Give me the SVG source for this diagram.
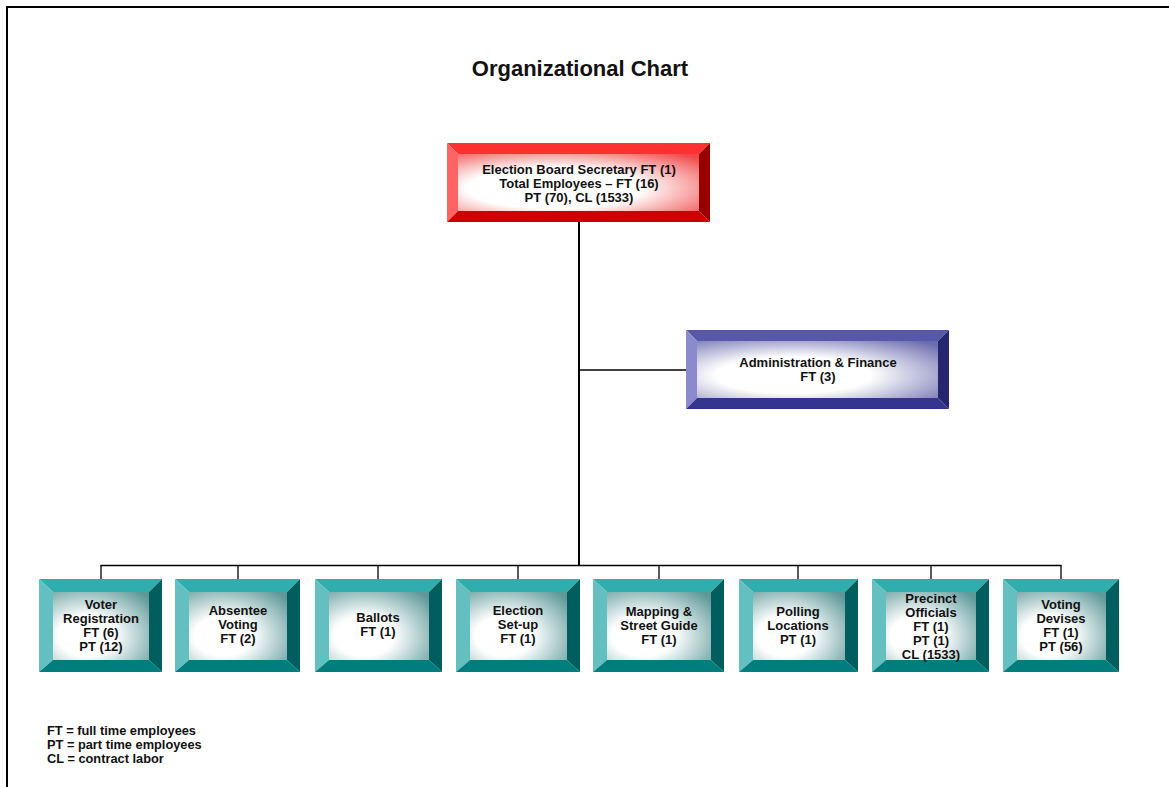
<svg xmlns="http://www.w3.org/2000/svg" width="1169" height="787" viewBox="0 0 1169 787">
<style>
text{font-family:"Liberation Sans",Arial,sans-serif;font-weight:bold;fill:#111;text-anchor:middle}
.lbl{font-size:13px}
.title{font-size:22px}
.leg{font-size:12.8px;text-anchor:start}
.tT{fill:#30AEAE}.tL{fill:#64C0C0}.tR{fill:#005E5E}.tB{fill:#007E7E}
.rT{fill:#FF3030}.rL{fill:#FF6464}.rR{fill:#990000}.rB{fill:#CC0000}
.bT{fill:#5858AA}.bL{fill:#8A8ACC}.bR{fill:#252570}.bB{fill:#35358F}
.conn line{stroke:#000;stroke-width:1.3}
.conn line.trunk{stroke-width:2}
</style>
<defs>
<radialGradient id="gT" cx="0.35" cy="0.65" r="0.85"><stop offset="0" stop-color="#fff"/><stop offset="0.35" stop-color="#fff"/><stop offset="1" stop-color="#5E9898"/></radialGradient>
<radialGradient id="gR" cx="0.4" cy="0.6" r="0.8"><stop offset="0" stop-color="#fff"/><stop offset="0.45" stop-color="#fff"/><stop offset="1" stop-color="#F04848"/></radialGradient>
<radialGradient id="gB" cx="0.4" cy="0.6" r="0.8"><stop offset="0" stop-color="#fff"/><stop offset="0.4" stop-color="#fff"/><stop offset="1" stop-color="#6A6AAE"/></radialGradient>
</defs>
<rect width="1169" height="787" fill="#fff"/>
<path d="M7,787 V7 H1169" fill="none" stroke="#000" stroke-width="2"/>
<text class="title" x="580" y="76">Organizational Chart</text>

<g class="conn" id="connectors">
<line class="trunk" x1="579" y1="222" x2="579" y2="566"/>
<line x1="579" y1="370" x2="686" y2="370"/>
<line x1="100.5" y1="565.5" x2="1061.5" y2="565.5"/>
<line x1="101" y1="565" x2="101" y2="579"/>
<line x1="238" y1="565" x2="238" y2="579"/>
<line x1="378" y1="565" x2="378" y2="579"/>
<line x1="518" y1="565" x2="518" y2="579"/>
<line x1="659" y1="565" x2="659" y2="579"/>
<line x1="798" y1="565" x2="798" y2="579"/>
<line x1="931" y1="565" x2="931" y2="579"/>
<line x1="1061" y1="565" x2="1061" y2="579"/>
</g>

<g id="secretary">
<polygon class="rT" points="447,143 710,143 699,154 458,154"/>
<polygon class="rL" points="447,143 458,154 458,211 447,222"/>
<polygon class="rR" points="710,143 710,222 699,211 699,154"/>
<polygon class="rB" points="447,222 458,211 699,211 710,222"/>
<rect x="458" y="154" width="241" height="57" fill="url(#gR)"/>
<text class="lbl" x="579" y="174">Election Board Secretary FT (1)</text>
<text class="lbl" x="579" y="188">Total Employees – FT (16)</text>
<text class="lbl" x="579" y="202">PT (70), CL (1533)</text>
</g>

<g id="admin">
<polygon class="bT" points="686,330 949,330 938,341 697,341"/>
<polygon class="bL" points="686,330 697,341 697,398 686,409"/>
<polygon class="bR" points="949,330 949,409 938,398 938,341"/>
<polygon class="bB" points="686,409 697,398 938,398 949,409"/>
<rect x="697" y="341" width="241" height="57" fill="url(#gB)"/>
<text class="lbl" x="818" y="367">Administration &amp; Finance</text>
<text class="lbl" x="818" y="381">FT (3)</text>
</g>

<g id="voter-registration">
<polygon class="tT" points="39,579 162,579 149,592 53,592"/>
<polygon class="tL" points="39,579 53,592 53,660 39,672"/>
<polygon class="tR" points="162,579 162,672 149,660 149,592"/>
<polygon class="tB" points="39,672 53,660 149,660 162,672"/>
<rect x="53" y="592" width="96" height="68" fill="url(#gT)"/>
<text class="lbl" x="101" y="609">Voter</text>
<text class="lbl" x="101" y="623">Registration</text>
<text class="lbl" x="101" y="637">FT (6)</text>
<text class="lbl" x="101" y="651">PT (12)</text>
</g>

<g id="absentee-voting">
<polygon class="tT" points="175,579 300,579 287,592 189,592"/>
<polygon class="tL" points="175,579 189,592 189,660 175,672"/>
<polygon class="tR" points="300,579 300,672 287,660 287,592"/>
<polygon class="tB" points="175,672 189,660 287,660 300,672"/>
<rect x="189" y="592" width="98" height="68" fill="url(#gT)"/>
<text class="lbl" x="238" y="615">Absentee</text>
<text class="lbl" x="238" y="629">Voting</text>
<text class="lbl" x="238" y="643">FT (2)</text>
</g>

<g id="ballots">
<polygon class="tT" points="315,579 442,579 429,592 329,592"/>
<polygon class="tL" points="315,579 329,592 329,660 315,672"/>
<polygon class="tR" points="442,579 442,672 429,660 429,592"/>
<polygon class="tB" points="315,672 329,660 429,660 442,672"/>
<rect x="329" y="592" width="100" height="68" fill="url(#gT)"/>
<text class="lbl" x="378" y="622">Ballots</text>
<text class="lbl" x="378" y="636">FT (1)</text>
</g>

<g id="election-setup">
<polygon class="tT" points="456,579 580,579 567,592 470,592"/>
<polygon class="tL" points="456,579 470,592 470,660 456,672"/>
<polygon class="tR" points="580,579 580,672 567,660 567,592"/>
<polygon class="tB" points="456,672 470,660 567,660 580,672"/>
<rect x="470" y="592" width="97" height="68" fill="url(#gT)"/>
<text class="lbl" x="518" y="615">Election</text>
<text class="lbl" x="518" y="629">Set-up</text>
<text class="lbl" x="518" y="643">FT (1)</text>
</g>

<g id="mapping">
<polygon class="tT" points="593,579 724,579 711,592 607,592"/>
<polygon class="tL" points="593,579 607,592 607,660 593,672"/>
<polygon class="tR" points="724,579 724,672 711,660 711,592"/>
<polygon class="tB" points="593,672 607,660 711,660 724,672"/>
<rect x="607" y="592" width="104" height="68" fill="url(#gT)"/>
<text class="lbl" x="659" y="616">Mapping &amp;</text>
<text class="lbl" x="659" y="630">Street Guide</text>
<text class="lbl" x="659" y="644">FT (1)</text>
</g>

<g id="polling">
<polygon class="tT" points="739,579 858,579 845,592 753,592"/>
<polygon class="tL" points="739,579 753,592 753,660 739,672"/>
<polygon class="tR" points="858,579 858,672 845,660 845,592"/>
<polygon class="tB" points="739,672 753,660 845,660 858,672"/>
<rect x="753" y="592" width="92" height="68" fill="url(#gT)"/>
<text class="lbl" x="798" y="616">Polling</text>
<text class="lbl" x="798" y="630">Locations</text>
<text class="lbl" x="798" y="644">PT (1)</text>
</g>

<g id="precinct">
<polygon class="tT" points="872,579 989,579 976,592 886,592"/>
<polygon class="tL" points="872,579 886,592 886,660 872,672"/>
<polygon class="tR" points="989,579 989,672 976,660 976,592"/>
<polygon class="tB" points="872,672 886,660 976,660 989,672"/>
<rect x="886" y="592" width="90" height="68" fill="url(#gT)"/>
<text class="lbl" x="931" y="603">Precinct</text>
<text class="lbl" x="931" y="617">Officials</text>
<text class="lbl" x="931" y="631">FT (1)</text>
<text class="lbl" x="931" y="645">PT (1)</text>
<text class="lbl" x="931" y="659">CL (1533)</text>
</g>

<g id="voting-devises">
<polygon class="tT" points="1003,579 1119,579 1106,592 1017,592"/>
<polygon class="tL" points="1003,579 1017,592 1017,660 1003,672"/>
<polygon class="tR" points="1119,579 1119,672 1106,660 1106,592"/>
<polygon class="tB" points="1003,672 1017,660 1106,660 1119,672"/>
<rect x="1017" y="592" width="89" height="68" fill="url(#gT)"/>
<text class="lbl" x="1061" y="609">Voting</text>
<text class="lbl" x="1061" y="623">Devises</text>
<text class="lbl" x="1061" y="637">FT (1)</text>
<text class="lbl" x="1061" y="651">PT (56)</text>
</g>

<g id="legend">
<text class="leg" x="47" y="735">FT = full time employees</text>
<text class="leg" x="47" y="749">PT = part time employees</text>
<text class="leg" x="47" y="763">CL = contract labor</text>
</g>
</svg>
